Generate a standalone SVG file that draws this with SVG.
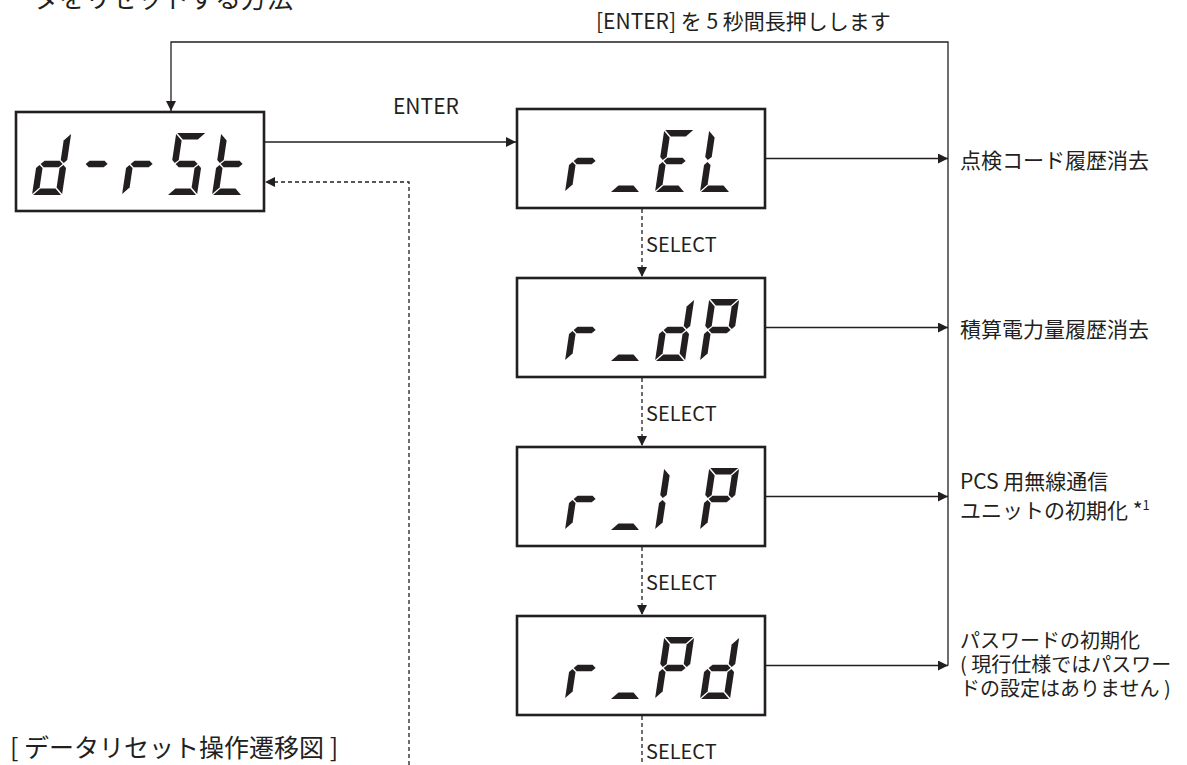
<svg xmlns="http://www.w3.org/2000/svg" xmlns:xlink="http://www.w3.org/1999/xlink" width="1187" height="765" viewBox="0 0 1187 765">
<style>
.box{fill:#fff;stroke:#231f20;stroke-width:2.6}
.seg{fill:#231f20}
.ln{fill:none;stroke:#231f20;stroke-width:1.3}
.dash{fill:none;stroke:#231f20;stroke-width:1.3;stroke-dasharray:4 3}
.t{font-family:"Noto Sans CJK JP","Noto Sans",sans-serif;fill:#231f20}
.lab{font-size:21px}
.lab2{font-size:20px}
</style>
<defs>
<marker id="ah" viewBox="0 0 10 10" refX="10" refY="5" markerWidth="10" markerHeight="10" markerUnits="userSpaceOnUse" orient="auto">
<path d="M0,0 L10,5 L0,10 Z" fill="#231f20"/>
</marker>
<polygon id="sa" class="seg" points="1,-62 29,-62 22.5,-55.5 7.5,-55.5"/>
<polygon id="sb" class="seg" points="30,-61 30,-35 27,-32 23.5,-35 23.5,-54.5"/>
<polygon id="sc" class="seg" points="27,-30 30,-27 30,-1 23.5,-7.5 23.5,-27"/>
<polygon id="sd" class="seg" points="1,0 29,0 22.5,-6.5 7.5,-6.5"/>
<polygon id="se" class="seg" points="3,-30 6.5,-27 6.5,-7.5 0,-1 0,-27"/>
<polygon id="sf" class="seg" points="0,-61 6.5,-54.5 6.5,-35 3,-32 0,-35"/>
<polygon id="sg" class="seg" points="4,-31 7.5,-34.3 22.5,-34.3 26,-31 22.5,-27.7 7.5,-27.7"/>
<g id="ch-d"><use href="#sb"/><use href="#sc"/><use href="#sd"/><use href="#se"/><use href="#sg"/></g>
<g id="ch-minus"><use href="#sg"/></g>
<g id="ch-r"><use href="#se"/><use href="#sg"/></g>
<g id="ch-S"><use href="#sa"/><use href="#sf"/><use href="#sg"/><use href="#sc"/><use href="#sd"/></g>
<g id="ch-t"><use href="#sf"/><use href="#se"/><use href="#sg"/><use href="#sd"/></g>
<g id="ch-u"><use href="#sd"/></g>
<g id="ch-E"><use href="#sa"/><use href="#sf"/><use href="#sg"/><use href="#se"/><use href="#sd"/></g>
<g id="ch-L"><use href="#sf"/><use href="#se"/><use href="#sd"/></g>
<g id="ch-P"><use href="#sa"/><use href="#sb"/><use href="#sf"/><use href="#sg"/><use href="#se"/></g>
<g id="ch-I"><use href="#sf"/><use href="#se"/></g>
</defs>
<rect width="1187" height="765" fill="#fff"/>

<text class="t" x="33" y="8" font-size="26">タをリセットする方法</text>
<text class="t" x="596" y="29" font-size="21">[ENTER] を 5 秒間長押しします</text>
<text class="t" x="393" y="114" font-size="21">ENTER</text>
<text class="t" x="10" y="757" font-size="25">[ データリセット操作遷移図 ]</text>

<g id="connectors">
<path class="ln" d="M948,665.5 V42 H171 V111" marker-end="url(#ah)"/>
<path class="ln" d="M265,142 H516" marker-end="url(#ah)"/>
<path class="ln" d="M766,158.5 H948" marker-end="url(#ah)"/>
<path class="ln" d="M766,327.5 H948" marker-end="url(#ah)"/>
<path class="ln" d="M766,496.5 H948" marker-end="url(#ah)"/>
<path class="ln" d="M766,665.5 H948" marker-end="url(#ah)"/>
<path class="dash" d="M642,209 V277" marker-end="url(#ah)"/>
<path class="dash" d="M642,378 V446" marker-end="url(#ah)"/>
<path class="dash" d="M642,547 V615" marker-end="url(#ah)"/>
<path class="dash" d="M642,716 V765"/>
<path class="dash" d="M409,765 V182 H265" marker-end="url(#ah)"/>
<text class="t" x="646" y="252" font-size="20">SELECT</text>
<text class="t" x="646" y="421" font-size="20">SELECT</text>
<text class="t" x="646" y="590" font-size="20">SELECT</text>
<text class="t" x="646" y="759" font-size="20">SELECT</text>
</g>

<g id="node-drst">
<rect class="box" x="16" y="112" width="248" height="99"/>
<use href="#ch-d" transform="translate(32,195) skewX(-8.5)"/>
<use href="#ch-minus" transform="translate(77,195) skewX(-8.5)"/>
<use href="#ch-r" transform="translate(122,195) skewX(-8.5)"/>
<use href="#ch-S" transform="translate(167,195) skewX(-8.5)"/>
<use href="#ch-t" transform="translate(212,195) skewX(-8.5)"/>
</g>

<g id="node-rel">
<rect class="box" x="517" y="109" width="248" height="99"/>
<use href="#ch-r" transform="translate(565,192) skewX(-8.5)"/>
<use href="#ch-u" transform="translate(610,192) skewX(-8.5)"/>
<use href="#ch-E" transform="translate(655,192) skewX(-8.5)"/>
<use href="#ch-L" transform="translate(700,192) skewX(-8.5)"/>
<text class="t lab" x="960" y="168">点検コード履歴消去</text>
</g>

<g id="node-rdp">
<rect class="box" x="517" y="278" width="248" height="99"/>
<use href="#ch-r" transform="translate(565,361) skewX(-8.5)"/>
<use href="#ch-u" transform="translate(610,361) skewX(-8.5)"/>
<use href="#ch-d" transform="translate(655,361) skewX(-8.5)"/>
<use href="#ch-P" transform="translate(700,361) skewX(-8.5)"/>
<text class="t lab" x="960" y="337">積算電力量履歴消去</text>
</g>

<g id="node-rip">
<rect class="box" x="517" y="447" width="248" height="99"/>
<use href="#ch-r" transform="translate(565,530) skewX(-8.5)"/>
<use href="#ch-u" transform="translate(610,530) skewX(-8.5)"/>
<use href="#ch-I" transform="translate(655,530) skewX(-8.5)"/>
<use href="#ch-P" transform="translate(700,530) skewX(-8.5)"/>
<text class="t lab" x="960" y="489">PCS 用無線通信</text>
<text class="t lab" x="960" y="518">ユニットの初期化 *<tspan font-size="13" dy="-8">1</tspan></text>
</g>

<g id="node-rpd">
<rect class="box" x="517" y="616" width="248" height="99"/>
<use href="#ch-r" transform="translate(565,699) skewX(-8.5)"/>
<use href="#ch-u" transform="translate(610,699) skewX(-8.5)"/>
<use href="#ch-P" transform="translate(655,699) skewX(-8.5)"/>
<use href="#ch-d" transform="translate(700,699) skewX(-8.5)"/>
<text class="t lab2" x="960" y="648">パスワードの初期化</text>
<text class="t lab2" x="960" y="672">( 現行仕様ではパスワー</text>
<text class="t lab2" x="960" y="696">ドの設定はありません )</text>
</g>
</svg>
